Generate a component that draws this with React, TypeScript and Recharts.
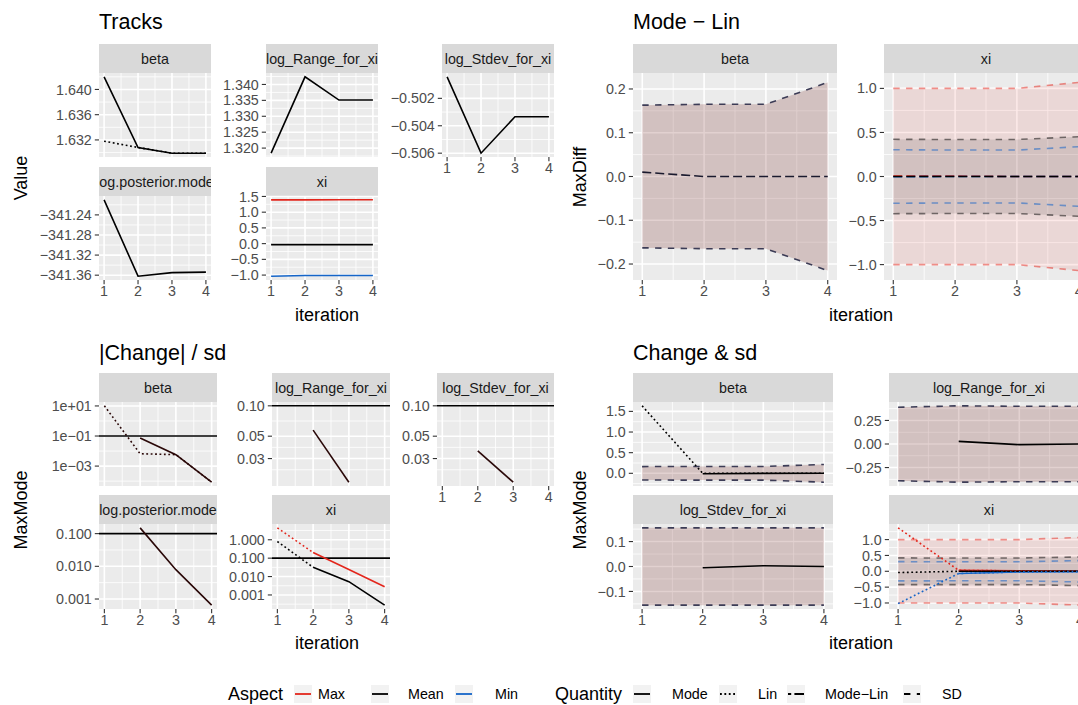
import { ComposedChart, Line, Area, XAxis, YAxis, CartesianGrid, ReferenceLine } from 'recharts';

const FONT = '"Liberation Sans", Arial, Helvetica, sans-serif';
const RED = '#E3261C';
const BLACK = '#000000';
const BLUE = '#1565C8';
const MIX = '#3C3C56';
const DARK = '#2A0808';

const DOT = '1.8 2.6';
const DOTDASH = '9 4';
const DASHED = '6.4 6.4';

const SMALL = 14.3;
const MID = 18;
const BIG = 21.5;

const ITER = [1, 2, 3, 4];

// Tracks (Value)
const trBetaMode = [1.642, 1.6308, 1.6299, 1.6299];
const trBetaLin = [1.6318, 1.6308, 1.6299, 1.6299];
const trRangeMode = [1.3184, 1.3424, 1.3351, 1.3351];
const trStdevMode = [-0.50043, -0.506, -0.50334, -0.50334];
const trPostMode = [-341.21, -341.362, -341.355, -341.354];
const trXiMax = [1.392, 1.392, 1.393, 1.393];
const trXiMean = [-0.031, -0.031, -0.031, -0.031];
const trXiMin = [-1.035, -1.015, -1.012, -1.012];

// Mode - Lin (MaxDiff)
const mlBeta = [0.01, 0.0, 0.0, 0.0];
const mlXiMax = [0.004, 0.004, 0.0, 0.0];
const mlXiMean = [0.0, 0.0, 0.0, 0.0];
const mlXiMin = [-0.003, 0.0, 0.0, 0.0];

// SD
const sdBeta = [0.163, 0.165, 0.165, 0.215];
const sdRange = [0.39, 0.405, 0.4, 0.4];
const sdStdev = [0.155, 0.155, 0.155, 0.155];
const sdXiMax = [1.0, 1.0, 1.0, 1.068];
const sdXiMean = [0.422, 0.42, 0.42, 0.452];
const sdXiMin = [0.304, 0.3, 0.3, 0.338];

// |Change| / sd
const csThreshold = 0.1;
const csBetaMode = [null, 0.0736, 0.00575, 0.000085];
const csBetaLin = [10.2, 0.0066, 0.0058, 0.000085];
const csRangeMode = [null, 0.0574, 0.0175, null];
const csStdevMode = [null, 0.0357, 0.0175, null];
const csPostMode = [null, 0.15, 0.0079, 0.00065];
const csXiMaxMode = [null, 0.204, 0.024, 0.0028];
const csXiMaxLin = [4.43, 0.204, null, null];
const csXiMeanMode = [null, 0.0318, 0.0053, 0.00028];
const csXiMeanLin = [0.805, 0.0318, null, null];

// Change & sd
const chBetaMode = [null, -0.011, -0.001, 0.0];
const chBetaLin = [1.635, 0.0, 0.0, 0.0];
const chRangeMode = [null, 0.028, -0.007, 0.0];
const chStdevMode = [null, -0.005, 0.003, 0.0];
const chXiMaxMode = [null, 0.03, 0.012, 0.008];
const chXiMaxLin = [1.37, 0.03, 0.012, 0.008];
const chXiMeanMode = [null, 0.0, 0.0, 0.0];
const chXiMeanLin = [-0.04, 0.0, 0.0, 0.0];
const chXiMinMode = [null, -0.07, -0.02, -0.01];
const chXiMinLin = [-1.02, -0.07, -0.02, -0.01];

type Val = number | null;
type LineDef = { values: Val[]; color: string; dash?: string; opacity?: number };
type BandDef = { sd: number[]; fill: string; fillOpacity: number; stroke?: string; strokeOpacity?: number };

const fmt = (s: string) => s.replace('-', '\u2212');

function expandDomain(vals: number[], log: boolean): [number, number] {
  const v = log ? vals.filter((a) => a > 0).map(Math.log10) : vals;
  const lo = Math.min(...v);
  const hi = Math.max(...v);
  const pad = (hi - lo) * 0.05;
  return log ? [10 ** (lo - pad), 10 ** (hi + pad)] : [lo - pad, hi + pad];
}

function minorBreaks(ticks: number[], domain: [number, number], log: boolean) {
  const t = (log ? ticks.map(Math.log10) : ticks).slice().sort((a, b) => a - b);
  const d = log ? domain.map(Math.log10) : domain;
  const out: number[] = [];
  for (let i = 0; i < t.length - 1; i++) out.push((t[i] + t[i + 1]) / 2);
  if (t.length > 1) {
    out.push(t[0] - (t[1] - t[0]) / 2);
    out.push(t[t.length - 1] + (t[t.length - 1] - t[t.length - 2]) / 2);
  }
  return out.filter((v) => v > d[0] && v < d[1]).map((v) => (log ? 10 ** v : v));
}

type PanelProps = {
  x: number;
  y: number;
  w: number;
  h: number;
  label: string;
  ticks: number[];
  labels: string[];
  lines: LineDef[];
  bands?: BandDef[];
  hline?: number;
  log?: boolean;
  showX?: boolean;
};

function Panel({ x, y, w, h, label, ticks, labels, lines, bands = [], hline, log = false, showX = false }: PanelProps) {
  const yw = 70;
  const pad = 10;
  const xh = showX ? 26 : 0;
  const rows = ITER.map((it, i) => {
    const r: Record<string, unknown> = { it };
    lines.forEach((l, j) => {
      r['l' + j] = l.values[i];
    });
    bands.forEach((b, j) => {
      r['b' + j] = [-b.sd[i], b.sd[i]];
      r['bu' + j] = b.sd[i];
      r['bl' + j] = -b.sd[i];
    });
    return r;
  });
  const all: number[] = [];
  lines.forEach((l) => l.values.forEach((v) => v !== null && all.push(v)));
  bands.forEach((b) => b.sd.forEach((v) => all.push(v, -v)));
  if (hline !== undefined) all.push(hline);
  const domain = expandDomain(all, log);
  const minor = minorBreaks(ticks, domain, log);
  const tickStyle = { fill: '#4D4D4D', fontSize: SMALL, fontFamily: FONT };

  return (
    <>
      <div
        style={{
          position: 'absolute',
          left: x,
          top: y - 29,
          width: w,
          height: 29,
          background: '#D9D9D9',
          display: 'flex',
          justifyContent: 'center',
          alignItems: 'center',
          overflow: 'hidden',
          whiteSpace: 'nowrap',
          fontSize: SMALL,
          color: '#1A1A1A',
        }}
      >
        <span style={{ flexShrink: 0 }}>{label}</span>
      </div>
      <div style={{ position: 'absolute', left: x - yw, top: y - pad }}>
        <ComposedChart
          width={yw + w}
          height={h + xh + pad * 2}
          data={rows}
          margin={{ top: pad, right: 0, bottom: pad, left: 0 }}
        >
          <CartesianGrid
            fill="#EBEBEB"
            stroke="#FFFFFF"
            strokeWidth={0.8}
            horizontalValues={minor}
            verticalValues={[1.5, 2.5, 3.5]}
          />
          <CartesianGrid stroke="#FFFFFF" strokeWidth={1.6} horizontalValues={ticks} verticalValues={ITER} />
          <XAxis
            dataKey="it"
            type="number"
            domain={[0.85, 4.15]}
            ticks={ITER}
            interval={0}
            allowDataOverflow
            hide={!showX}
            height={xh}
            axisLine={false}
            tickSize={4.2}
            tickMargin={2}
            tickLine={{ stroke: '#333333', strokeWidth: 1.1 }}
            tick={tickStyle}
          />
          <YAxis
            type="number"
            scale={log ? 'log' : 'linear'}
            domain={domain}
            allowDataOverflow
            ticks={ticks}
            interval={0}
            width={yw}
            axisLine={false}
            tickSize={4.2}
            tickMargin={3}
            tickLine={{ stroke: '#333333', strokeWidth: 1.1 }}
            tick={tickStyle}
            tickFormatter={(v: number) => labels[ticks.indexOf(v)] ?? ''}
          />
          {bands.map((b, j) => (
            <Area
              key={'a' + j}
              type="linear"
              dataKey={'b' + j}
              stroke="none"
              fill={b.fill}
              fillOpacity={b.fillOpacity}
              dot={false}
              activeDot={false}
              isAnimationActive={false}
            />
          ))}
          {bands.map((b, j) =>
            b.stroke
              ? ['bu' + j, 'bl' + j].map((k) => (
                  <Line
                    key={k}
                    type="linear"
                    dataKey={k}
                    stroke={b.stroke}
                    strokeOpacity={b.strokeOpacity ?? 1}
                    strokeWidth={1.6}
                    strokeDasharray={DASHED}
                    dot={false}
                    activeDot={false}
                    isAnimationActive={false}
                  />
                ))
              : null
          )}
          {hline !== undefined && <ReferenceLine y={hline} stroke="#000000" strokeWidth={1.6} />}
          {lines.map((l, j) => (
            <Line
              key={'l' + j}
              type="linear"
              dataKey={'l' + j}
              stroke={l.color}
              strokeOpacity={l.opacity ?? 1}
              strokeWidth={1.6}
              strokeDasharray={l.dash}
              dot={false}
              activeDot={false}
              isAnimationActive={false}
            />
          ))}
        </ComposedChart>
      </div>
    </>
  );
}

function Text({ x, y, size, children, anchor = 'left', rotate = false }: { x: number; y: number; size: number; children: string; anchor?: 'left' | 'center'; rotate?: boolean }) {
  const tf = rotate ? 'translate(-50%, -50%) rotate(-90deg)' : anchor === 'center' ? 'translate(-50%, -50%)' : 'translateY(-50%)';
  return (
    <div style={{ position: 'absolute', left: x, top: y, transform: tf, fontSize: size, whiteSpace: 'nowrap', lineHeight: 1, color: '#000' }}>
      {children}
    </div>
  );
}

function Key({ x, color, dash }: { x: number; color: string; dash?: string }) {
  return (
    <svg style={{ position: 'absolute', left: x, top: 685 }} width={18} height={18}>
      <rect x={0} y={0} width={18} height={18} fill="#F2F2F2" />
      <line x1={1} x2={17} y1={9} y2={9} stroke={color} strokeWidth={1.8} strokeDasharray={dash} />
    </svg>
  );
}

const single = (sd: number[]): BandDef[] => [
  { sd, fill: RED, fillOpacity: 0.1 },
  { sd, fill: BLACK, fillOpacity: 0.1, stroke: MIX },
];
const xiBands: BandDef[] = [
  { sd: sdXiMax, fill: RED, fillOpacity: 0.1, stroke: RED, strokeOpacity: 0.5 },
  { sd: sdXiMean, fill: BLACK, fillOpacity: 0.1, stroke: BLACK, strokeOpacity: 0.5 },
  { sd: sdXiMin, fill: BLUE, fillOpacity: 0, stroke: BLUE, strokeOpacity: 0.55 },
];

export default function App() {
  const xi5 = [-1, -0.5, 0, 0.5, 1];
  const xi5l = ['-1.0', '-0.5', '0.0', '0.5', '1.0'].map(fmt);
  return (
    <div
      style={{
        position: 'fixed',
        left: 0,
        top: 0,
        width: 1078,
        height: 705,
        overflow: 'hidden',
        background: '#FFFFFF',
        fontFamily: FONT,
      }}
    >
      {/* Tracks */}
      <Text x={99} y={23} size={BIG}>Tracks</Text>
      <Panel x={99} y={73} w={112} h={84} label="beta" ticks={[1.632, 1.636, 1.64]} labels={['1.632', '1.636', '1.640']}
        lines={[{ values: trBetaLin, color: BLACK, dash: DOT }, { values: trBetaMode, color: BLACK }]} />
      <Panel x={266} y={73} w={112} h={84} label="log_Range_for_xi" ticks={[1.32, 1.325, 1.33, 1.335, 1.34]}
        labels={['1.320', '1.325', '1.330', '1.335', '1.340']} lines={[{ values: trRangeMode, color: BLACK }]} />
      <Panel x={442} y={73} w={112} h={84} label="log_Stdev_for_xi" showX ticks={[-0.506, -0.504, -0.502]}
        labels={['-0.506', '-0.504', '-0.502'].map(fmt)} lines={[{ values: trStdevMode, color: BLACK }]} />
      <Panel x={99} y={196} w={112} h={84} label="log.posterior.mode" showX ticks={[-341.36, -341.32, -341.28, -341.24]}
        labels={['-341.36', '-341.32', '-341.28', '-341.24'].map(fmt)} lines={[{ values: trPostMode, color: BLACK }]} />
      <Panel x={266} y={196} w={112} h={84} label="xi" showX ticks={[-1, -0.5, 0, 0.5, 1, 1.5]}
        labels={[...xi5l, '1.5']}
        lines={[{ values: trXiMax, color: RED }, { values: trXiMean, color: BLACK }, { values: trXiMin, color: BLUE }]} />
      <Text x={327} y={315} size={MID} anchor="center">iteration</Text>
      <Text x={21} y={178} size={MID} rotate>Value</Text>

      {/* Mode - Lin */}
      <Text x={633} y={23} size={BIG}>{'Mode \u2212 Lin'}</Text>
      <Panel x={633} y={73} w={204} h={207} label="beta" showX ticks={[-0.2, -0.1, 0, 0.1, 0.2]}
        labels={['-0.2', '-0.1', '0.0', '0.1', '0.2'].map(fmt)} bands={single(sdBeta)}
        lines={[{ values: mlBeta, color: '#1A1A2E', dash: DOTDASH }]} />
      <Panel x={884} y={73} w={204} h={207} label="xi" showX ticks={xi5} labels={xi5l} bands={xiBands}
        lines={[
          { values: mlXiMax, color: RED, dash: DOTDASH },
          { values: mlXiMin, color: BLUE, dash: DOTDASH },
          { values: mlXiMean, color: BLACK, dash: DOTDASH },
        ]} />
      <Text x={861} y={315} size={MID} anchor="center">iteration</Text>
      <Text x={580} y={177} size={MID} rotate>MaxDiff</Text>

      {/* |Change| / sd */}
      <Text x={99} y={354} size={BIG}>|Change| / sd</Text>
      <Panel x={99} y={402} w={118} h={84} label="beta" log ticks={[0.001, 0.1, 10]} labels={['1e-03', '1e-01', '1e+01'].map(fmt)}
        hline={csThreshold}
        lines={[{ values: csBetaLin, color: DARK, dash: DOT }, { values: csBetaMode, color: DARK }]} />
      <Panel x={272} y={402} w={118} h={84} label="log_Range_for_xi" log ticks={[0.03, 0.05, 0.1]} labels={['0.03', '0.05', '0.10']}
        hline={csThreshold} lines={[{ values: csRangeMode, color: DARK }]} />
      <Panel x={437} y={402} w={117} h={84} label="log_Stdev_for_xi" log showX ticks={[0.03, 0.05, 0.1]} labels={['0.03', '0.05', '0.10']}
        hline={csThreshold} lines={[{ values: csStdevMode, color: DARK }]} />
      <Panel x={99} y={524} w={118} h={85} label="log.posterior.mode" log showX ticks={[0.001, 0.01, 0.1]}
        labels={['0.001', '0.010', '0.100']} hline={csThreshold} lines={[{ values: csPostMode, color: DARK }]} />
      <Panel x={272} y={524} w={118} h={85} label="xi" log showX ticks={[0.001, 0.01, 0.1, 1]}
        labels={['0.001', '0.010', '0.100', '1.000']} hline={csThreshold}
        lines={[
          { values: csXiMaxLin, color: RED, dash: DOT },
          { values: csXiMeanLin, color: BLACK, dash: DOT },
          { values: csXiMaxMode, color: RED },
          { values: csXiMeanMode, color: BLACK },
        ]} />
      <Text x={327} y={643} size={MID} anchor="center">iteration</Text>
      <Text x={21} y={510} size={MID} rotate>MaxMode</Text>

      {/* Change & sd */}
      <Text x={633} y={354} size={BIG}>{'Change & sd'}</Text>
      <Panel x={633} y={402} w={200} h={84} label="beta" ticks={[0, 0.5, 1, 1.5]} labels={['0.0', '0.5', '1.0', '1.5']}
        bands={single(sdBeta)}
        lines={[{ values: chBetaMode, color: BLACK }, { values: chBetaLin, color: BLACK, dash: DOT }]} />
      <Panel x={889} y={402} w={200} h={84} label="log_Range_for_xi" ticks={[-0.25, 0, 0.25]}
        labels={['-0.25', '0.00', '0.25'].map(fmt)} bands={single(sdRange)} lines={[{ values: chRangeMode, color: BLACK }]} />
      <Panel x={633} y={524} w={200} h={85} label="log_Stdev_for_xi" showX ticks={[-0.1, 0, 0.1]}
        labels={['-0.1', '0.0', '0.1'].map(fmt)} bands={single(sdStdev)} lines={[{ values: chStdevMode, color: BLACK }]} />
      <Panel x={889} y={524} w={200} h={85} label="xi" showX ticks={xi5} labels={xi5l} bands={xiBands}
        lines={[
          { values: chXiMaxMode, color: RED },
          { values: chXiMinMode, color: BLUE },
          { values: chXiMeanMode, color: BLACK },
          { values: chXiMaxLin, color: RED, dash: DOT },
          { values: chXiMinLin, color: BLUE, dash: DOT },
          { values: chXiMeanLin, color: BLACK, dash: DOT },
        ]} />
      <Text x={861} y={643} size={MID} anchor="center">iteration</Text>
      <Text x={580} y={510} size={MID} rotate>MaxMode</Text>

      {/* Legend */}
      <Text x={228} y={694} size={MID}>Aspect</Text>
      <Key x={294} color={RED} />
      <Text x={318} y={694} size={SMALL}>Max</Text>
      <Key x={371} color={BLACK} />
      <Text x={408} y={694} size={SMALL}>Mean</Text>
      <Key x={455} color={BLUE} />
      <Text x={495} y={694} size={SMALL}>Min</Text>
      <Text x={555} y={694} size={MID}>Quantity</Text>
      <Key x={633} color={BLACK} />
      <Text x={672} y={694} size={SMALL}>Mode</Text>
      <Key x={719} color={BLACK} dash={DOT} />
      <Text x={758} y={694} size={SMALL}>Lin</Text>
      <Key x={787} color={BLACK} dash="3.2 3.2 9.6 3.2" />
      <Text x={825} y={694} size={SMALL}>{'Mode\u2212Lin'}</Text>
      <Key x={903} color={BLACK} dash={DASHED} />
      <Text x={942} y={694} size={SMALL}>SD</Text>
    </div>
  );
}
